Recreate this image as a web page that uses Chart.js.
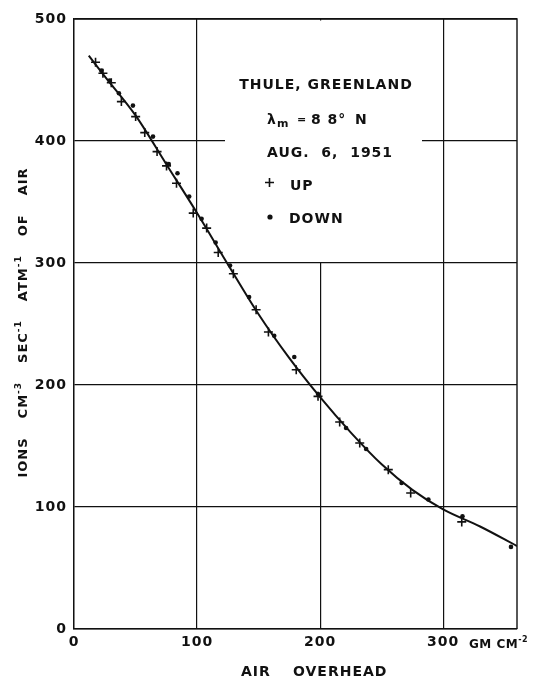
<!DOCTYPE html>
<html>
<head>
<meta charset="utf-8">
<script src="https://cdn.jsdelivr.net/npm/chart.js@4.4.1/dist/chart.umd.min.js"></script>
<style>
  body { margin: 0; background: #fff; }
  canvas { display: block; }
</style>
</head>
<body>
<canvas id="c" width="533" height="679"></canvas>
<script>
// Thule, Greenland - ionization vs air overhead, Aug. 6 1951

const upX = [17.5, 23.5, 30.3, 38.5, 50.1, 57.5, 67.5, 75.2, 83.3, 96.9, 107.8, 117.2, 129.5, 148, 158, 180.6, 198.3, 215.9, 232.2, 255.4, 273.6, 315.1]
const upY = [464.5, 455.5, 447.8, 432.3, 420, 406.9, 391.3, 379.6, 365.4, 340.9, 328.6, 308.6, 291.2, 261.7, 243.4, 212.5, 190.7, 169.7, 152.5, 130.6, 111.5, 87.8]

const downX = [22.2, 28.9, 36.5, 47.9, 64.2, 77, 84.1, 93.6, 103.7, 115.1, 126.8, 142.3, 162.7, 179, 198.3, 221.1, 237.4, 266.2, 288, 315.7, 355.1]
const downY = [457.7, 449.5, 439.1, 429, 403.6, 381.2, 373.6, 354.5, 336.2, 316.8, 298, 272.1, 240.4, 222.9, 192.6, 164.8, 147.6, 119.7, 106.1, 92.4, 67.3]

const curveX = [12, 25, 50, 75, 100, 125, 150, 175, 200, 225, 250, 275, 300, 330, 360]
const curveY = [470, 453, 421, 381, 341, 299, 258, 222, 190, 161, 135, 114, 98, 84, 68]

const xTicks = [0, 100, 200, 300]
const yTicks = [0, 100, 200, 300, 400, 500]

const FONT = 'DejaVu Sans'
const INK = '#111'

const pts = (xs, ys) => xs.map((x, i) => ({ x: x, y: ys[i] }))

function txt(ctx, s, x, y, size, align) {
  ctx.font = 'bold ' + size + 'px "' + FONT + '"'
  ctx.textAlign = align || 'left'
  ctx.fillText(s, x, y)
  return ctx.measureText(s).width
}

const paper = {
  id: 'paper',
  beforeDraw(chart) {
    chart.ctx.letterSpacing = '1px'
  },
  beforeDatasetsDraw(chart) {
    // blank patch behind the station note
    const ctx = chart.ctx
    const ys = chart.scales.y
    const top = chart.chartArea.top
    ctx.save()
    ctx.fillStyle = '#fff'
    ctx.fillRect(225, top + 1.5, 422 - 225, ys.getPixelForValue(300) - top - 2.5)
    ctx.restore()
  },
  afterDraw(chart) {
    const ctx = chart.ctx
    const a = chart.chartArea
    ctx.save()
    ctx.strokeStyle = INK
    ctx.lineWidth = 1.4
    ctx.beginPath()
    ctx.moveTo(a.left, a.top)
    ctx.lineTo(a.right, a.top)
    ctx.lineTo(a.right, a.bottom)
    ctx.stroke()

    ctx.fillStyle = INK
    ctx.letterSpacing = '1px'
    ctx.textBaseline = 'alphabetic'

    // station note
    txt(ctx, 'THULE, GREENLAND', 326, 89, 14, 'center')
    txt(ctx, 'λ', 267, 124, 14)
    txt(ctx, 'm', 277, 127, 11)
    txt(ctx, '=', 297, 123, 11)
    txt(ctx, '8 8°', 311, 124, 14)
    txt(ctx, 'N', 355, 124, 14)
    txt(ctx, 'AUG.  6,  1951', 267, 156.5, 14)
    ctx.lineWidth = 1.6
    ctx.beginPath()
    ctx.moveTo(265, 182.5); ctx.lineTo(274, 182.5)
    ctx.moveTo(269.5, 178); ctx.lineTo(269.5, 187)
    ctx.stroke()
    txt(ctx, 'UP', 290, 190, 14)
    ctx.beginPath()
    ctx.arc(270, 217, 2.6, 0, Math.PI * 2)
    ctx.fill()
    txt(ctx, 'DOWN', 289, 222.5, 14)

    // x unit and title
    ctx.letterSpacing = '0.5px'
    let w = txt(ctx, 'GM CM', 469, 648, 12)
    txt(ctx, '-2', 469 + w, 642, 8)
    ctx.letterSpacing = '1px'
    txt(ctx, 'AIR', 241, 676, 14)
    txt(ctx, 'OVERHEAD', 293, 676, 14)

    // y title, rotated
    ctx.translate(27, 322.5)
    ctx.rotate(-Math.PI / 2)
    const parts = [['IONS', ''], ['CM', '-3'], ['SEC', '-1'], ['ATM', '-1'], ['OF', ''], ['AIR', '']]
    const gap = 19
    ctx.font = 'bold 13px "' + FONT + '"'
    const big = parts.map(p => ctx.measureText(p[0]).width)
    ctx.font = 'bold 9px "' + FONT + '"'
    const small = parts.map(p => p[1] ? ctx.measureText(p[1]).width : 0)
    let total = gap * (parts.length - 1)
    parts.forEach((p, i) => { total += big[i] + small[i] })
    let cx = -total / 2
    parts.forEach((p, i) => {
      txt(ctx, p[0], cx, 0, 13)
      cx += big[i]
      if (p[1]) { txt(ctx, p[1], cx, -6, 9); cx += small[i] }
      cx += gap
    })
    ctx.restore()
  }
}

new Chart(document.getElementById('c'), {
  type: 'scatter',
  data: {
    datasets: [
      {
        label: 'up',
        data: pts(upX, upY),
        pointStyle: 'cross',
        pointRadius: 4.5,
        borderWidth: 1.6,
        borderColor: INK,
        backgroundColor: INK
      },
      {
        label: 'down',
        data: pts(downX, downY),
        pointStyle: 'circle',
        pointRadius: 2.3,
        borderWidth: 0,
        backgroundColor: INK
      },
      {
        label: 'fit',
        data: pts(curveX, curveY),
        showLine: true,
        pointRadius: 0,
        borderColor: INK,
        borderWidth: 2,
        cubicInterpolationMode: 'monotone'
      }
    ]
  },
  options: {
    responsive: false,
    animation: false,
    devicePixelRatio: 1,
    layout: { padding: { top: 19, right: 16, left: 0, bottom: 0 } },
    plugins: { legend: { display: false }, tooltip: { enabled: false } },
    scales: {
      x: {
        type: 'linear',
        min: 0,
        max: 360,
        afterFit: s => { s.height = 50 },
        afterBuildTicks: s => { s.ticks = xTicks.map(v => ({ value: v })) },
        ticks: {
          includeBounds: false,
          padding: 5,
          color: INK,
          font: { family: FONT, size: 14, weight: 'bold' }
        },
        grid: { color: INK, lineWidth: 1.2, drawTicks: false },
        border: { color: INK, width: 1.4 }
      },
      y: {
        min: 0,
        max: 500,
        afterFit: s => { s.width = 74 },
        afterBuildTicks: s => { s.ticks = yTicks.map(v => ({ value: v })) },
        ticks: {
          padding: 7,
          color: INK,
          font: { family: FONT, size: 14, weight: 'bold' }
        },
        grid: { color: INK, lineWidth: 1.2, drawTicks: false },
        border: { color: INK, width: 1.4 }
      }
    }
  },
  plugins: [paper]
})
</script>
</body>
</html>
